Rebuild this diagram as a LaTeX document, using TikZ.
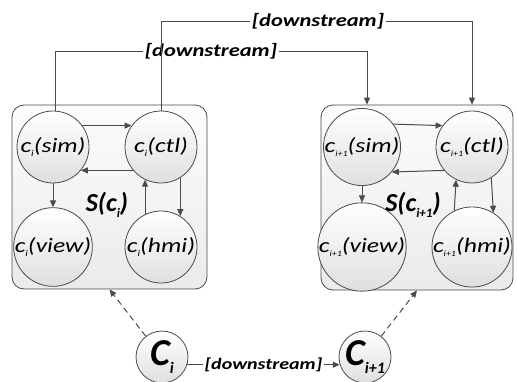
\documentclass[tikz,border=0pt]{standalone}
\usepackage{fontspec}
\setmainfont{Carlito}
\newfontfamily\lab[FakeStretch=1.25]{Carlito}
\usetikzlibrary{arrows.meta,shadings}
\definecolor{linec}{HTML}{4A4A4A}
\newcommand\sbs[2][9]{\raisebox{-0.45ex}{\fontsize{#1}{#1}\selectfont #2}}
\begin{document}
\begin{tikzpicture}[x=1pt,y=-1pt,
  sys/.style={draw=linec, line width=0.8pt, rounded corners=12pt, top color=gray!2, bottom color=gray!16, inner sep=0pt},
  comp/.style={circle, draw=linec, line width=0.8pt, minimum size=72pt, inner sep=0pt, top color=white, bottom color=gray!25,
    font=\lab\itshape\fontsize{20.5}{20.5}\selectfont},
  big/.style={circle, draw=linec, line width=0.8pt, minimum size=52pt, inner sep=0pt, top color=white, bottom color=gray!25,
    font=\bfseries\itshape\fontsize{38}{38}\selectfont},
  arr/.style={-{Triangle[length=7pt,width=6pt]}, draw=linec, line width=1pt},
  lbl/.style={fill=white, inner sep=1.5pt, font=\lab\bfseries\itshape\fontsize{18}{18}\selectfont},
  lbls/.style={fill=white, inner sep=1.5pt, font=\lab\bfseries\itshape\fontsize{16}{16}\selectfont},
  sname/.style={font=\bfseries\itshape\fontsize{26}{26}\selectfont}
]
\useasboundingbox (0,0) rectangle (517,381);
% system boxes
\node[sys, minimum width=195pt, minimum height=184pt] (lbox) at (109.5,197) {};
\node[sys, minimum width=192pt, minimum height=185pt] (rbox) at (417,197.5) {};
% left components
\node[comp] (lsim) at (53,147) {c\sbs{i}(sim)};
\node[comp] (lctl) at (161,147) {c\sbs{i}(ctl)};
\node[comp] (lview) at (53,247) {c\sbs{i}(view)};
\node[comp] (lhmi) at (161,247) {c\sbs{i}(hmi)};
\node[sname] (ls) at (107,205) {S(c\sbs[13]{i})};
% right components
\node[comp] (rsim) at (362,147) {c\sbs[8]{i+1}(sim)};
\node[comp] (rctl) at (472,147) {c\sbs[8]{i+1}(ctl)};
\node[comp] (rview) at (362,247) {c\sbs[8]{i+1}(view)};
\node[comp] (rhmi) at (472,247) {c\sbs[8]{i+1}(hmi)};
\node[sname] (rs) at (413,205) {S(c\sbs[13]{i+1})};
% internal arrows
\foreach \s in {l,r}{
  \draw[arr] (\s sim.36) -- (\s ctl.144);
  \draw[arr] (\s ctl.220) -- (\s sim.-40);
  \draw[arr] (\s sim.south) -- (\s view.north);
  \draw[arr] (\s hmi.116) -- (\s ctl.244);
  \draw[arr] (\s ctl.-58) -- (\s hmi.58);
}
% top connectors
\coordinate (t1) at (0,51);
\coordinate (t2) at (0,21);
\draw[arr] ([xshift=2pt]lsim.north) -- ([xshift=2pt]lsim.north |- t1) -- ([xshift=5pt]rsim.north |- t1) -- ([xshift=5pt]rsim.north |- rbox.north);
\node[lbl] (d1) at (211,51) {[downstream]};
\draw[arr] (lctl.north) -- (lctl.north |- t2) -- (rctl.north |- t2) -- (rctl.north |- rbox.north);
\node[lbl] (d2) at (318,21) {[downstream]};
% bottom
\node[big] (ci) at (162,357) {C\sbs[16]{i}};
\node[big] (cj) at (365,357) {C\sbs[16]{i+1}};
\draw[arr] (ci.-17) -- node[lbls] (d3) {[downstream]} (cj.197);
\draw[arr, dashed, dash pattern=on 6pt off 4pt] (ci.128) -- (lbox.south);
\draw[arr, dashed, dash pattern=on 6pt off 4pt] (cj.52) -- (rbox.south);
\end{tikzpicture}
\end{document}
